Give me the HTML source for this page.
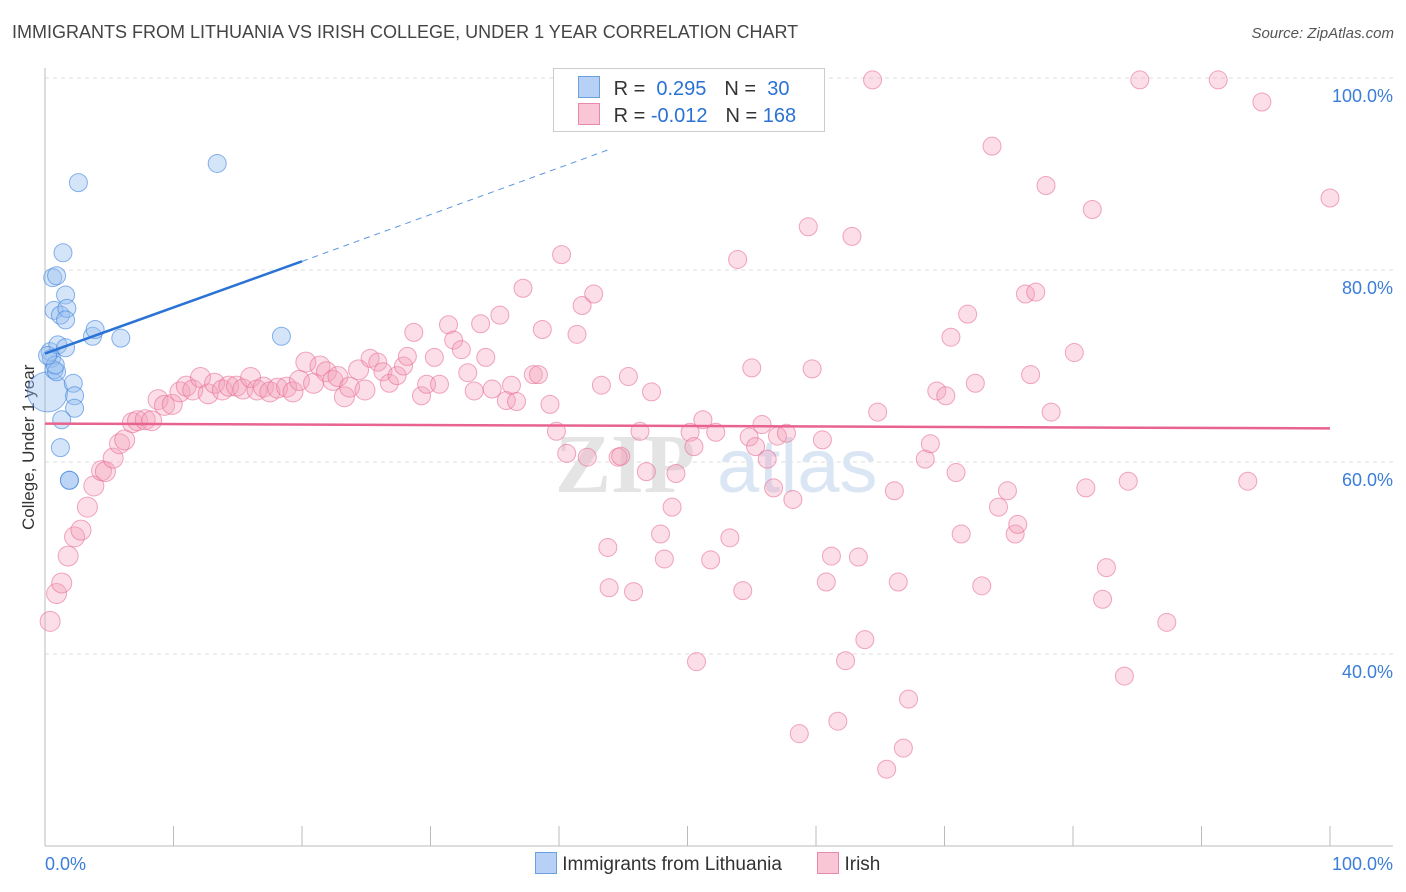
<!DOCTYPE html>
<html><head><meta charset="utf-8"><style>
body{margin:0;background:#fff;font-family:"Liberation Sans",sans-serif;}
#wrap{position:relative;width:1406px;height:892px;overflow:hidden;}
.t{position:absolute;white-space:nowrap;}
</style></head><body>
<div id="wrap">
<div class="t" style="left:12px;top:22px;font-size:18px;color:#444;">IMMIGRANTS FROM LITHUANIA VS IRISH COLLEGE, UNDER 1 YEAR CORRELATION CHART</div>
<div class="t" style="right:12px;top:25px;font-size:15px;color:#555;font-style:italic;">Source: ZipAtlas.com</div>
<div class="t" style="left:-46px;top:445px;font-size:17px;color:#333;transform:rotate(-90deg);width:150px;text-align:center;">College, Under 1 year</div>
<svg id="plot" width="1406" height="892" style="position:absolute;left:0;top:0"></svg>
</div>
<script>
const xTickLabels=["0.0%","100.0%"];
const yTicks=[40,60,80,100];
const yTickLabels=["40.0%","60.0%","80.0%","100.0%"];
const blueX=[0.2,0.4,0.5,0.7,0.9,0.6,0.9,1.4,2.6,13.4,1.6,0.7,1.2,1.7,1.6,1.0,1.6,3.7,3.9,5.9,18.4,2.2,2.3,2.3,1.3,1.2,1.9,1.9,0.8,0.2];
const blueY=[67.3,71.5,70.8,69.6,69.4,79.2,79.4,81.8,89.1,91.1,77.4,75.8,75.3,76.0,74.8,72.2,71.9,73.1,73.8,72.9,73.1,68.2,66.9,65.6,64.4,61.5,58.1,58.1,70.1,71.1];
const pinkX=[0.4,0.9,1.3,1.8,2.3,2.8,3.3,3.8,4.4,4.7,5.3,5.8,6.2,6.8,7.2,7.8,8.3,8.8,9.3,9.9,10.5,11.0,11.5,12.1,12.7,13.2,13.8,14.3,14.9,15.4,16.0,16.5,17.0,17.5,18.1,18.8,19.3,19.8,20.3,20.9,21.4,21.9,22.4,22.8,23.3,23.7,24.4,24.9,25.3,25.9,26.3,26.8,27.4,27.9,28.2,28.7,29.3,29.7,30.3,30.7,31.4,31.8,32.4,32.9,33.4,33.9,34.3,34.8,35.4,35.9,36.3,36.7,37.2,38.0,38.4,38.7,39.3,39.8,40.2,40.6,41.4,41.8,42.2,42.7,43.3,43.8,43.9,44.6,44.8,45.4,45.8,46.3,46.8,47.2,47.9,48.2,48.8,49.1,50.2,50.5,50.7,51.2,51.8,52.2,53.3,53.9,54.3,54.8,55.0,55.3,55.8,56.2,56.7,57.0,57.7,58.2,58.7,59.4,59.7,60.5,60.8,61.2,61.7,62.3,62.8,63.3,63.8,64.4,64.8,66.1,66.4,66.8,67.2,68.5,68.9,69.4,70.1,70.5,70.9,71.3,71.8,72.4,72.9,73.7,74.2,74.9,75.5,75.7,76.3,76.7,77.1,77.9,78.3,80.1,81.0,81.5,82.3,82.6,84.0,84.3,85.2,87.3,91.3,93.6,94.7,100,65.5];
const pinkY=[43.4,46.3,47.4,50.2,52.2,52.9,55.3,57.5,59.1,59.0,60.4,61.9,62.3,64.1,64.3,64.4,64.3,66.5,65.9,66.0,67.3,67.9,67.5,68.8,67.1,68.2,67.5,67.9,67.9,67.6,68.8,67.5,67.8,67.3,67.7,67.8,67.3,68.5,70.4,68.2,70.0,69.4,68.5,68.9,66.8,67.8,69.6,67.5,70.8,70.4,69.4,68.2,69.0,70.0,71.0,73.5,66.9,68.1,70.9,68.1,74.3,72.7,71.7,69.3,67.4,74.4,70.9,67.6,75.3,66.4,68.0,66.3,78.1,69.1,69.1,73.8,66.0,63.2,81.6,60.9,73.3,76.3,60.5,77.5,68.0,51.1,46.9,60.5,60.6,68.9,46.5,63.2,59.0,67.3,52.5,49.9,55.3,58.8,63.1,61.6,39.2,64.4,49.8,63.1,52.1,81.1,46.6,62.6,69.8,61.6,63.9,60.3,57.3,62.7,63.0,56.1,31.7,84.5,69.7,62.3,47.5,50.2,33.0,39.3,83.5,50.1,41.5,99.8,65.2,57.0,47.5,30.2,35.3,60.3,61.9,67.4,66.9,73.0,58.9,52.5,75.4,68.2,47.1,92.9,55.3,57.0,52.5,53.5,77.5,69.1,77.7,88.8,65.2,71.4,57.3,86.3,45.7,49.0,37.7,58.0,99.8,43.3,99.8,58.0,97.5,87.5,28.0];
const blueTrend=[[0,71.3],[20,80.9]];
const blueDash=[[20,80.9],[44,92.6]];
const pinkTrend=[[0,64.0],[100,63.5]];

const X0=45,X1=1330,Y100=78,Y40=654;
const sx=v=>X0+(X1-X0)*v/100;
const sy=v=>Y100+(100-v)*(Y40-Y100)/60;
const svg=document.getElementById('plot');
const NS='http://www.w3.org/2000/svg';
function mk(tag,attrs,name){const e=document.createElementNS(NS,tag);for(const k in attrs)e.setAttribute(k,attrs[k]);


svg.appendChild(e);return e;}
// gridlines & ticks
yTicks.forEach((t,i)=>{
 mk('line',{x1:X0,x2:1393,y1:sy(t),y2:sy(t),stroke:'#ddd','stroke-dasharray':'4,4'},'y-gridline');
 const tx=mk('text',{x:1393,y:sy(t)+24,'text-anchor':'end','font-size':18,fill:'#3b7dd8','font-family':'Liberation Sans'},'y-tick-label');tx.textContent=yTickLabels[i];
});
mk('line',{x1:X0,x2:X0,y1:68,y2:846,stroke:'#bbb'},'y-axis-line');
mk('line',{x1:X0,x2:1393,y1:846,y2:846,stroke:'#bbb'},'x-axis-line');
for(let i=0;i<=10;i++){mk('line',{x1:sx(i*10),x2:sx(i*10),y1:826,y2:846,stroke:'#bbb'},'x-tick');}
let t1=mk('text',{x:45,y:870,'font-size':18,fill:'#3b7dd8','font-family':'Liberation Sans'},'x-tick-label');t1.textContent=xTickLabels[0];
let t2=mk('text',{x:1393,y:870,'text-anchor':'end','font-size':18,fill:'#3b7dd8','font-family':'Liberation Sans'},'x-tick-label');t2.textContent=xTickLabels[1];
// watermark
let w1=mk('text',{x:555,y:492,'font-size':84,fill:'#e4e4e4','font-family':'Liberation Serif','font-weight':'bold'},'watermark');w1.textContent='ZIP';
let w2=mk('text',{x:717,y:492,'font-size':76,fill:'#dbe6f4','font-family':'Liberation Sans'},'watermark');w2.textContent='atlas';
// points
pinkX.forEach((v,i)=>{const r=v<25?10:9;mk('circle',{cx:sx(v),cy:sy(pinkY[i]),r:r,fill:'rgba(244,160,186,0.35)',stroke:'rgba(232,110,150,0.6)','stroke-width':1},'irish-point');});
blueX.forEach((v,i)=>{const r=i==0?20:9;mk('circle',{cx:sx(v),cy:sy(blueY[i]),r:r,fill:'rgba(150,190,240,0.4)',stroke:'rgba(60,130,220,0.6)','stroke-width':1},'lithuania-point');});
// trends
mk('line',{x1:sx(pinkTrend[0][0]),y1:sy(pinkTrend[0][1]),x2:sx(pinkTrend[1][0]),y2:sy(pinkTrend[1][1]),stroke:'#e8638f','stroke-width':2.5},'irish-trend-line');
mk('line',{x1:sx(blueTrend[0][0]),y1:sy(blueTrend[0][1]),x2:sx(blueTrend[1][0]),y2:sy(blueTrend[1][1]),stroke:'#2a72d4','stroke-width':2.5},'lithuania-trend-line');
mk('line',{x1:sx(blueDash[0][0]),y1:sy(blueDash[0][1]),x2:sx(blueDash[1][0]),y2:sy(blueDash[1][1]),stroke:'#5b95e0','stroke-width':1,'stroke-dasharray':'6,5'},'lithuania-trend-extension');
</script>
<div style="position:absolute;left:553px;top:68px;width:270px;height:62px;background:#fff;border:1px solid #ccc;font-size:20px;">
 <div style="position:absolute;left:24px;top:7px;">
  <span style="display:inline-block;width:20px;height:20px;background:#b6d1f5;border:1px solid #6a9fe0;vertical-align:-3px;"></span>
  <span style="color:#333;margin-left:8px;">R = </span><span style="color:#2a72d4;">&nbsp;0.295</span><span style="color:#333;margin-left:18px;">N = </span><span style="color:#2a72d4;">&nbsp;30</span></div>
 <div style="position:absolute;left:24px;top:34px;">
  <span style="display:inline-block;width:20px;height:20px;background:#f8c6d5;border:1px solid #ea8aaa;vertical-align:-3px;"></span>
  <span style="color:#333;margin-left:8px;">R = </span><span style="color:#2a72d4;">-0.012</span><span style="color:#333;margin-left:18px;">N = </span><span style="color:#2a72d4;">168</span></div>
</div>
<div style="position:absolute;left:535px;top:852px;font-size:19px;color:#333;">
 <span><span style="display:inline-block;width:20px;height:20px;background:#b6d1f5;border:1px solid #6a9fe0;vertical-align:-4px;"></span> Immigrants from Lithuania</span>
 <span style="margin-left:30px;"><span style="display:inline-block;width:20px;height:20px;background:#f8c6d5;border:1px solid #ea8aaa;vertical-align:-4px;"></span> Irish</span>
</div>
</body></html>
